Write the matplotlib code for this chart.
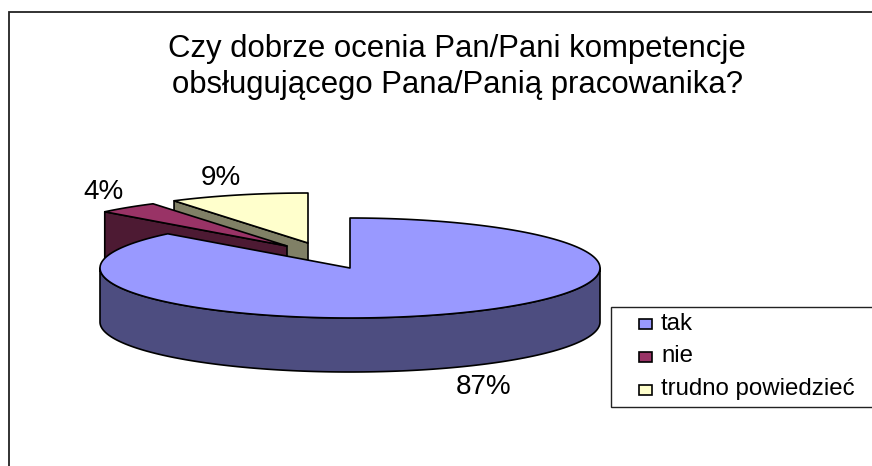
import numpy as np
import matplotlib
matplotlib.use("Agg")
import matplotlib.pyplot as plt
from matplotlib.patches import Polygon, Rectangle

categories = ["tak", "nie", "trudno powiedzieć"]
values = [87, 4, 9]
labels = ["87%", "4%", "9%"]
title = "Czy dobrze ocenia Pan/Pani kompetencje\nobsługującego Pana/Panią pracowanika?"

top_colors = ["#9999FF", "#993366", "#FFFFCC"]
wall_colors = ["#4D4D80", "#4D1A33", "#808066"]
offsets = [(0, 0), (-63, -22), (-42, -25)]
label_pos = [(484, 387), (103, 192), (221, 178)]
CX, CY, RX, RY, DEPTH = 350, 268, 250, 50, 54
EDGE = dict(edgecolor="black", linewidth=1.2, joinstyle="round")

fig = plt.figure(figsize=(8.72, 4.66), dpi=100)
ax = fig.add_axes([0, 0, 1, 1])
ax.set_xlim(0, 872)
ax.set_ylim(466, 0)
ax.axis("off")
plt.rcParams["font.family"] = ["Liberation Sans"]

ax.plot([8.5, 8.5, 872], [466, 12, 12], color="#222222", lw=1.3, solid_joinstyle="miter")


def arc(cx, cy, a0, a1):
    t = np.radians(np.linspace(a0, a1, 240))
    return np.column_stack([cx + RX * np.sin(t), cy - RY * np.cos(t)])


edges = np.cumsum([0] + values) / sum(values) * 360
order = [2, 1, 0]
for i in order:
    a0, a1 = edges[i], edges[i + 1]
    cx, cy = CX + offsets[i][0], CY + offsets[i][1]
    apex = np.array([[cx, cy]])
    if i == 0:
        # outer cylinder wall, front half
        front = arc(cx, cy, max(a0, 90), min(a1, 270))
        wall = np.vstack([front, (front + [0, DEPTH])[::-1]])
        ax.add_patch(Polygon(wall, closed=True, facecolor=wall_colors[i], **EDGE))
    else:
        # cut face along the slice's first radius
        rim = arc(cx, cy, a0, a0)[:1]
        face = np.vstack([rim, apex, apex + [0, DEPTH], rim + [0, DEPTH]])
        ax.add_patch(Polygon(face, closed=True, facecolor=wall_colors[i], **EDGE))
    top = np.vstack([apex, arc(cx, cy, a0, a1)])
    ax.add_patch(Polygon(top, closed=True, facecolor=top_colors[i], **EDGE))

for lab, (x, y) in zip(labels, label_pos):
    ax.text(x, y, lab, ha="center", va="center", fontsize=20, color="black")

ax.text(457, 67, title, ha="center", va="center", fontsize=22.4, color="black",
        linespacing=1.28, multialignment="center")

ax.add_patch(Rectangle((610.5, 307), 270, 100, facecolor="white", edgecolor="#222222", lw=1.0))
for k, (name, col) in enumerate(zip(categories, top_colors)):
    y = 323.5 + 33 * k
    ax.add_patch(Rectangle((639, y - 5), 13, 10, facecolor=col, edgecolor="black", lw=1.2))
    ax.text(661, y, name, ha="left", va="center", fontsize=17.3, color="black")

fig.savefig("out.png", dpi=100)
